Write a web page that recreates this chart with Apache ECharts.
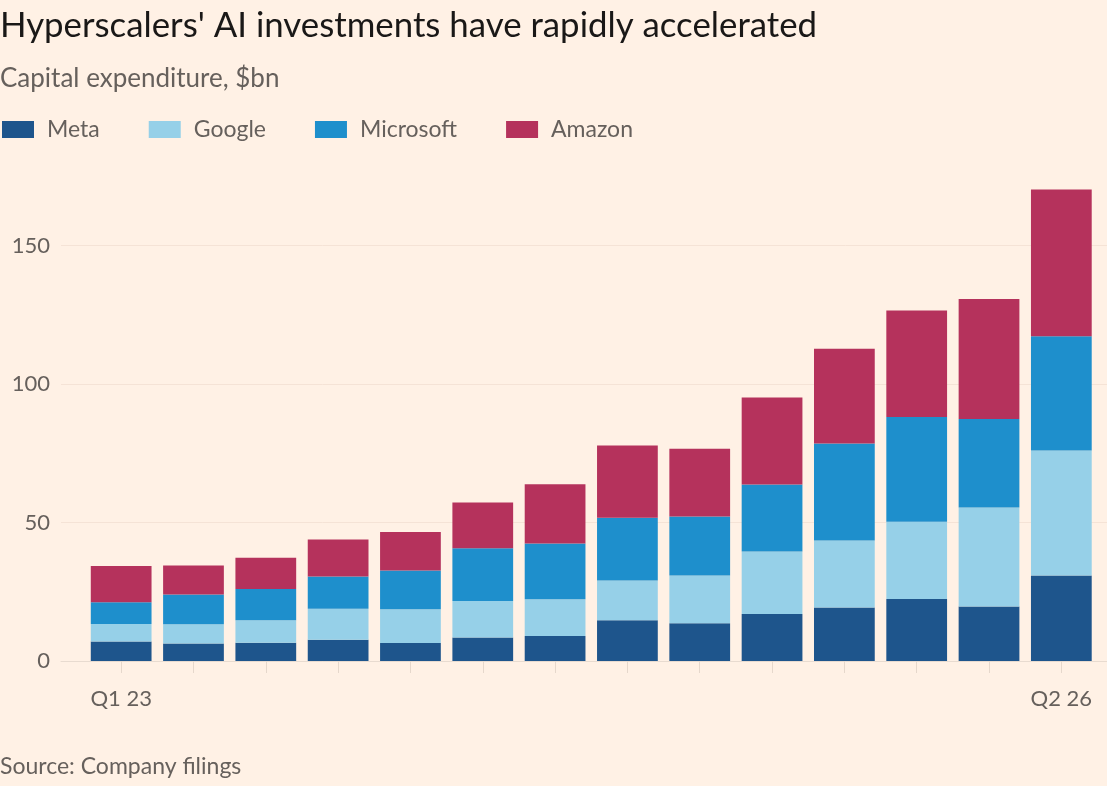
<!DOCTYPE html>
<html>
<head>
<meta charset="utf-8">
<script src="https://cdn.jsdelivr.net/npm/echarts@6/dist/echarts.min.js"></script>
<style>
  html, body { margin: 0; padding: 0; background: #fff1e5; }
  #main { width: 1107px; height: 786px; }
</style>
</head>
<body>
<div id="main"></div>
<script>
var quarters = ['Q1 23', 'Q2 23', 'Q3 23', 'Q4 23', 'Q1 24', 'Q2 24', 'Q3 24',
                'Q4 24', 'Q1 25', 'Q2 25', 'Q3 25', 'Q4 25', 'Q1 26', 'Q2 26'];
var meta      = [7.0, 6.3, 6.6, 7.7, 6.5, 8.5, 9.0, 14.7, 13.6, 17.0, 19.3, 22.4, 19.7, 30.9];
var google    = [6.4, 7.0, 8.1, 11.2, 12.2, 13.2, 13.3, 14.4, 17.3, 22.5, 24.2, 27.9, 35.7, 45.1];
var microsoft = [7.8, 10.7, 11.3, 11.6, 14.0, 19.0, 20.1, 22.6, 21.3, 24.2, 35.0, 37.8, 32.0, 41.2];
var amazon    = [13.1, 10.5, 11.3, 13.4, 13.9, 16.5, 21.4, 26.1, 24.4, 31.4, 34.2, 38.4, 43.3, 53.0];
var yTicks = [0, 50, 100, 150];

var names = ['Meta', 'Google', 'Microsoft', 'Amazon'];
var colors = ['#1e558c', '#96d0e8', '#1e8fcc', '#b5325c'];

// both grids share the same pixel scale: 0 at y=661, 150 at y=245.5
var zeroY = 661, topY = 245.5;
var pxPerUnit = (zeroY - topY) / yTicks[yTicks.length - 1];
var barMax = 175;

function bar(name, data, color) {
    return {
        name: name,
        type: 'bar',
        stack: 'capex',
        xAxisIndex: 1,
        yAxisIndex: 1,
        barCategoryGap: '16%',
        itemStyle: { color: color },
        emphasis: { disabled: true },
        data: data
    };
}

var option = {
    backgroundColor: '#fff1e5',
    animation: false,
    textStyle: { fontFamily: 'Lato' },
    title: [
        { text: "Hyperscalers' AI investments have rapidly accelerated", left: -5, top: 3,
          textStyle: { fontSize: 34.8, fontWeight: 'normal', color: '#1a1817' } },
        { text: 'Capital expenditure, $bn', left: -5, top: 61,
          textStyle: { fontSize: 26, fontWeight: 'normal', color: '#66605c' } },
        { text: 'Source: Company filings', left: -5, top: 750,
          textStyle: { fontSize: 23, fontWeight: 'normal', color: '#66605c' } }
    ],
    legend: {
        left: -3, top: 113,
        itemWidth: 32, itemHeight: 17, itemGap: 49,
        icon: 'rect',
        selectedMode: false,
        data: names,
        textStyle: { fontSize: 23, color: '#66605c', padding: [0, 0, 0, 8] }
    },
    grid: [
        { left: 61, right: 0, top: topY, bottom: 786 - zeroY },
        { left: 85, right: 9.5, top: zeroY - barMax * pxPerUnit, bottom: 786 - zeroY }
    ],
    xAxis: [
        { type: 'value', gridIndex: 0, min: 0, max: 1,
          axisLine: { show: true, lineStyle: { color: '#e8dbd0' } },
          axisTick: { show: false }, axisLabel: { show: false }, splitLine: { show: false } },
        { type: 'category', gridIndex: 1, data: quarters,
          axisLine: { show: false },
          axisTick: { show: true, alignWithLabel: true, interval: 0, length: 12,
                      lineStyle: { color: '#e6d8cc' } },
          axisLabel: {
              interval: function (i) { return i === 0 || i === quarters.length - 1; },
              margin: 27, fontSize: 22, color: '#66605c'
          } }
    ],
    yAxis: [
        { type: 'value', gridIndex: 0, min: yTicks[0], max: yTicks[yTicks.length - 1], interval: 50,
          axisLine: { show: false }, axisTick: { show: false },
          axisLabel: { fontSize: 22, color: '#66605c', margin: 11 },
          splitLine: { lineStyle: { color: '#f5e3d6' } } },
        { type: 'value', gridIndex: 1, min: 0, max: barMax, show: false }
    ],
    series: [
        bar(names[0], meta, colors[0]),
        bar(names[1], google, colors[1]),
        bar(names[2], microsoft, colors[2]),
        bar(names[3], amazon, colors[3])
    ]
};

echarts.init(document.getElementById('main')).setOption(option);
</script>
</body>
</html>
